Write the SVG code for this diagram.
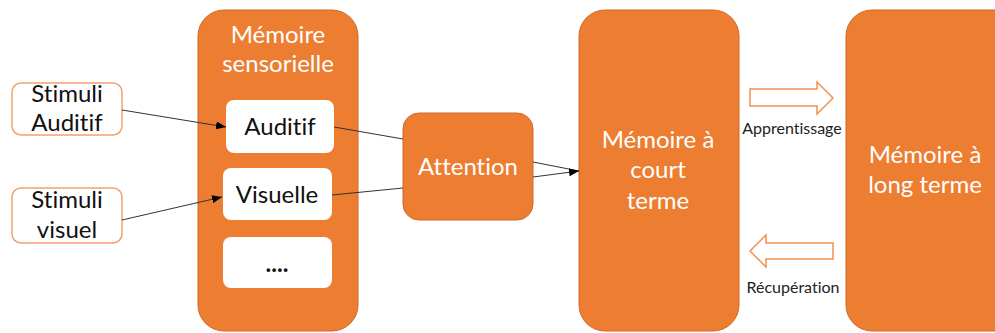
<svg xmlns="http://www.w3.org/2000/svg" width="995" height="333" viewBox="0 0 995 333">
  <style>
    text { font-variant-ligatures: none; font-feature-settings: "liga" 0, "clig" 0; }
    .block { fill: #ED7D31; stroke: #D0692A; stroke-width: 1; }
    .slot { fill: #FFFFFF; stroke: none; }
    .stim { fill: #FFFFFF; stroke: #F4A16C; stroke-width: 1.5; }
    .flow { fill: #FFFFFF; stroke: #F09150; stroke-width: 1.5; }
    .wt { font-family: Lato, "Open Sans", "Liberation Sans", sans-serif; font-size: 24px; fill: #FFFFFF; text-anchor: middle; }
    .bt { font-family: Lato, "Open Sans", "Liberation Sans", sans-serif; font-size: 24px; fill: #111111; text-anchor: middle; }
    .lbl { font-family: Lato, "Open Sans", "Liberation Sans", sans-serif; font-size: 16px; fill: #222222; text-anchor: middle; }
    .link { fill: none; stroke: #333333; stroke-width: 1; }
  </style>
  <defs>
    <marker id="tip" viewBox="0 0 10 8" refX="10" refY="4" markerWidth="10" markerHeight="8" markerUnits="userSpaceOnUse" orient="auto">
      <path d="M0,0 L10,4 L0,8 Z" fill="#000000"/>
    </marker>
  </defs>

  <rect width="995" height="333" fill="#FFFFFF"/>

  <!-- external stimuli -->
  <g id="stimuli-auditif">
    <rect class="stim" x="12" y="83" width="110" height="52" rx="9"/>
    <text class="bt" x="67" y="102">Stimuli</text>
    <text class="bt" x="67" y="131">Auditif</text>
  </g>
  <g id="stimuli-visuel">
    <rect class="stim" x="12" y="188" width="110" height="55" rx="9"/>
    <text class="bt" x="67" y="208">Stimuli</text>
    <text class="bt" x="67" y="238">visuel</text>
  </g>

  <!-- sensory memory with its registers -->
  <g id="memoire-sensorielle">
    <rect class="block" x="198" y="10" width="160" height="321" rx="26"/>
    <text class="wt" x="278" y="43">Mémoire</text>
    <text class="wt" x="278" y="72">sensorielle</text>
  </g>
  <g id="auditif">
    <rect class="slot" x="226" y="100" width="108" height="53" rx="8"/>
    <text class="bt" x="280" y="135">Auditif</text>
  </g>
  <g id="visuelle">
    <rect class="slot" x="223" y="168" width="109" height="52" rx="8"/>
    <text class="bt" x="277" y="203">Visuelle</text>
  </g>
  <g id="autres">
    <rect class="slot" x="223" y="237" width="109" height="51" rx="8"/>
    <text class="bt" x="277" y="272" font-weight="bold">....</text>
  </g>

  <!-- attention filter -->
  <g id="attention">
    <rect class="block" x="403" y="113" width="130" height="107" rx="16"/>
    <text class="wt" x="468" y="175">Attention</text>
  </g>

  <!-- short-term memory -->
  <g id="memoire-court-terme">
    <rect class="block" x="579" y="10" width="160" height="321" rx="26"/>
    <text class="wt" x="658" y="148">Mémoire à</text>
    <text class="wt" x="658" y="178">court</text>
    <text class="wt" x="658" y="209">terme</text>
  </g>

  <!-- long-term memory -->
  <g id="memoire-long-terme">
    <rect class="block" x="846" y="10" width="175" height="321" rx="26"/>
    <text class="wt" x="925" y="163">Mémoire à</text>
    <text class="wt" x="925" y="193">long terme</text>
  </g>

  <!-- transfers between stores -->
  <g id="apprentissage">
    <path class="flow" d="M750,89 L817,89 L817,82 L833,98 L817,114 L817,106 L750,106 Z"/>
    <text class="lbl" x="792" y="134">Apprentissage</text>
  </g>
  <g id="recuperation">
    <path class="flow" d="M833,243 L766,243 L766,235 L750,251 L766,267 L766,259 L833,259 Z"/>
    <text class="lbl" x="793" y="293">Récupération</text>
  </g>

  <!-- connectors -->
  <g id="connectors">
    <line class="link" x1="122" y1="110" x2="226" y2="127" marker-end="url(#tip)"/>
    <line class="link" x1="122" y1="220" x2="222" y2="197" marker-end="url(#tip)"/>
    <line class="link" x1="334" y1="127" x2="403" y2="139"/>
    <line class="link" x1="332" y1="195" x2="403" y2="188"/>
    <line class="link" x1="533" y1="162" x2="579" y2="171"/>
    <line class="link" x1="533" y1="177" x2="579" y2="171" marker-end="url(#tip)"/>
  </g>
</svg>
